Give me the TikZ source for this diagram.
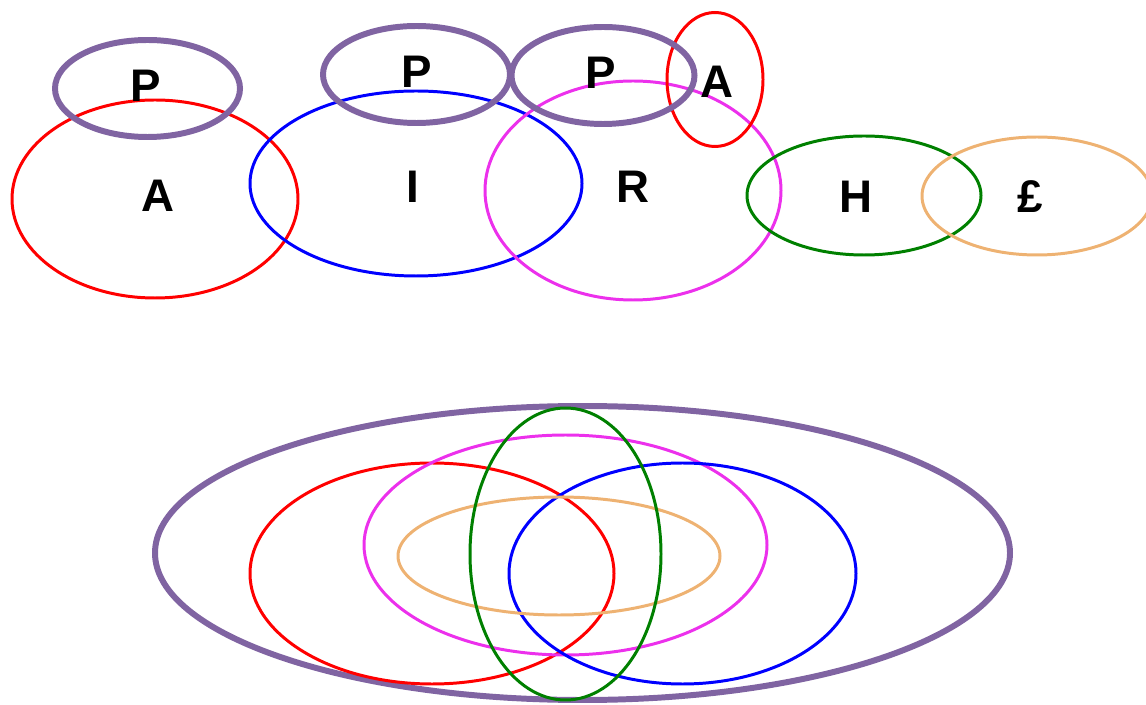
\documentclass[tikz,border=0pt]{standalone}
\usepackage{fontspec}
\setmainfont{Liberation Sans}
\usepackage{tikz}
\usetikzlibrary{positioning}
\definecolor{setpurple}{RGB}{128,100,162}
\definecolor{setred}{RGB}{255,0,0}
\definecolor{setblue}{RGB}{0,0,255}
\definecolor{setmagenta}{RGB}{236,48,236}
\definecolor{setgreen}{RGB}{0,128,0}
\definecolor{setorange}{RGB}{238,178,114}
\tikzstyle{pset} = [line width=3.4pt, color=setpurple]
\tikzstyle{cset} = [line width=1.7pt]
\tikzstyle{setlabel} = [anchor=base, inner sep=0pt, font=\fontsize{26}{30}\selectfont\bfseries]

\begin{document}
\begin{tikzpicture}[x=0.02cm, y=-0.02cm]
\useasboundingbox (0,0) rectangle (1146,705);
% Top row
\draw[cset, setred] (155,199) ellipse [x radius=143, y radius=99];
\draw[cset, setblue] (416,183.5) ellipse [x radius=166, y radius=92.5];
\draw[cset, setmagenta] (633,190.5) ellipse [x radius=148, y radius=109.5];
\draw[cset, setred] (715,79.5) ellipse [x radius=48, y radius=67];
\draw[cset, setgreen] (864,195.5) ellipse [x radius=117, y radius=59.5];
\draw[cset, setorange] (1037,196) ellipse [x radius=115, y radius=59];
\draw[pset] (147.5,88.5) ellipse [x radius=92.5, y radius=48.5];
\draw[pset] (416.5,74.5) ellipse [x radius=93.5, y radius=48.5];
\draw[pset] (603,75.5) ellipse [x radius=91.5, y radius=48.5];
\node[setlabel] (p1) at (146,102) {P};
\node[setlabel] (a1) at (158,212) {A};
\node[setlabel] (i1) at (413,203) {I};
\node[setlabel] (p2) at (417,88) {P};
\node[setlabel] (p3) at (601,89) {P};
\node[setlabel] (a2) at (717,98) {A};
\node[setlabel] (r1) at (633,203) {R};
\node[setlabel] (h1) at (856,213) {H};
\node[setlabel] (l1) at (1030,213) {£};
% Bottom
\draw[pset] (582.5,553) ellipse [x radius=427.5, y radius=147];
\draw[cset, setred] (432,573.5) ellipse [x radius=182, y radius=110.5];
\draw[cset, setmagenta] (565.5,545) ellipse [x radius=201.5, y radius=110];
\draw[cset, setblue] (682.5,573.5) ellipse [x radius=173.5, y radius=110.5];
\draw[cset, setorange] (559,556) ellipse [x radius=161, y radius=59];
\draw[cset, setgreen] (565.5,554) ellipse [x radius=95.5, y radius=146];
\end{tikzpicture}
\end{document}
